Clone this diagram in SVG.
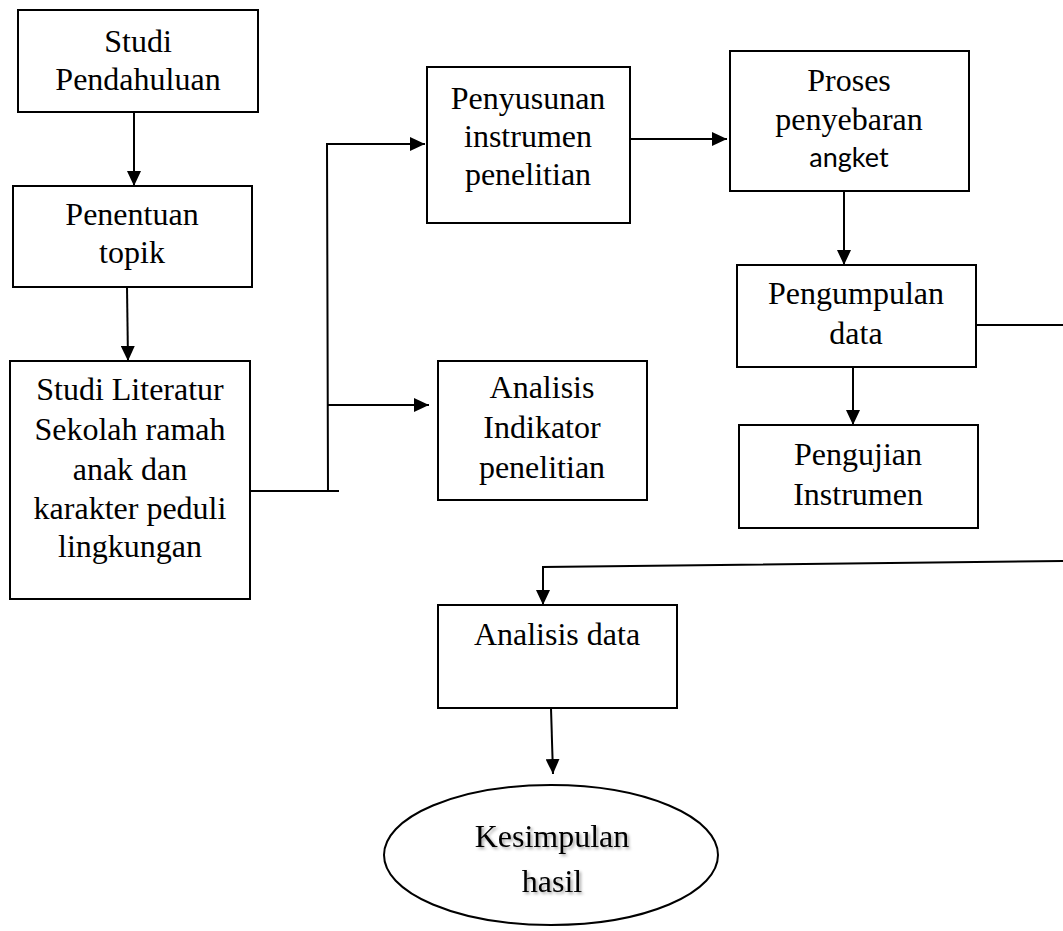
<svg xmlns="http://www.w3.org/2000/svg" width="1063" height="931" viewBox="0 0 1063 931">
<style>
.box{fill:#fff;stroke:#000;stroke-width:2}
.t{font-family:"Liberation Serif","Times New Roman",serif;font-size:32px;fill:#000;text-anchor:middle}
.s{font-family:Lato,"Open Sans",sans-serif;font-size:27px;fill:#000;text-anchor:middle}
.c{fill:none;stroke:#000;stroke-width:2}
</style>
<defs>
<marker id="ah" markerWidth="15" markerHeight="14" refX="15" refY="7" orient="auto" markerUnits="userSpaceOnUse">
<path d="M0,0 L15,7 L0,14 Z" fill="#000"/>
</marker>
<filter id="sh" x="-10%" y="-20%" width="130%" height="150%">
<feDropShadow dx="2" dy="2" stdDeviation="1.5" flood-color="#000" flood-opacity="0.35"/>
</filter>
</defs>
<g id="connectors">
<line class="c" x1="134" y1="112" x2="134" y2="186" marker-end="url(#ah)"/>
<line class="c" x1="127" y1="287" x2="128" y2="361" marker-end="url(#ah)"/>
<polyline class="c" points="250,491 339,491"/>
<polyline class="c" points="328,491 327,144 425,144" marker-end="url(#ah)"/>
<line class="c" x1="328" y1="405" x2="429" y2="405" marker-end="url(#ah)"/>
<line class="c" x1="630" y1="139" x2="727" y2="139" marker-end="url(#ah)"/>
<line class="c" x1="844" y1="191" x2="844" y2="265" marker-end="url(#ah)"/>
<line class="c" x1="976" y1="325" x2="1063" y2="325"/>
<line class="c" x1="853" y1="367" x2="853" y2="425" marker-end="url(#ah)"/>
<polyline class="c" points="1063,561 543,567 543,605" marker-end="url(#ah)"/>
<line class="c" x1="551" y1="708" x2="553" y2="774" marker-end="url(#ah)"/>
</g>
<g id="studi-pendahuluan">
<rect class="box" x="18" y="10" width="240" height="102"/>
<text class="t" x="138" y="52">Studi</text>
<text class="t" x="138" y="90">Pendahuluan</text>
</g>
<g id="penentuan-topik">
<rect class="box" x="13" y="186" width="239" height="101"/>
<text class="t" x="132" y="225">Penentuan</text>
<text class="t" x="132" y="263">topik</text>
</g>
<g id="studi-literatur">
<rect class="box" x="10" y="361" width="240" height="238"/>
<text class="t" x="130" y="400">Studi Literatur</text>
<text class="t" x="130" y="440">Sekolah ramah</text>
<text class="t" x="130" y="480">anak dan</text>
<text class="t" x="130" y="519">karakter peduli</text>
<text class="t" x="130" y="557">lingkungan</text>
</g>
<g id="penyusunan">
<rect class="box" x="427" y="67" width="203" height="156"/>
<text class="t" x="528" y="109">Penyusunan</text>
<text class="t" x="528" y="147">instrumen</text>
<text class="t" x="528" y="185">penelitian</text>
</g>
<g id="analisis-indikator">
<rect class="box" x="438" y="361" width="209" height="139"/>
<text class="t" x="542" y="398">Analisis</text>
<text class="t" x="542" y="438">Indikator</text>
<text class="t" x="542" y="478">penelitian</text>
</g>
<g id="proses-penyebaran">
<rect class="box" x="730" y="51" width="239" height="140"/>
<text class="t" x="849" y="91">Proses</text>
<text class="t" x="849" y="130">penyebaran</text>
<text class="s" x="849" y="167">angket</text>
</g>
<g id="pengumpulan-data">
<rect class="box" x="737" y="265" width="239" height="102"/>
<text class="t" x="856" y="304">Pengumpulan</text>
<text class="t" x="856" y="344">data</text>
</g>
<g id="pengujian-instrumen">
<rect class="box" x="739" y="425" width="239" height="103"/>
<text class="t" x="858" y="465">Pengujian</text>
<text class="t" x="858" y="505">Instrumen</text>
</g>
<g id="analisis-data">
<rect class="box" x="438" y="605" width="239" height="103"/>
<text class="t" x="557" y="645">Analisis data</text>
</g>
<g id="kesimpulan">
<ellipse class="box" cx="551" cy="855" rx="167" ry="70"/>
<text class="t" x="552" y="847" filter="url(#sh)">Kesimpulan</text>
<text class="t" x="552" y="892" filter="url(#sh)">hasil</text>
</g>
</svg>
